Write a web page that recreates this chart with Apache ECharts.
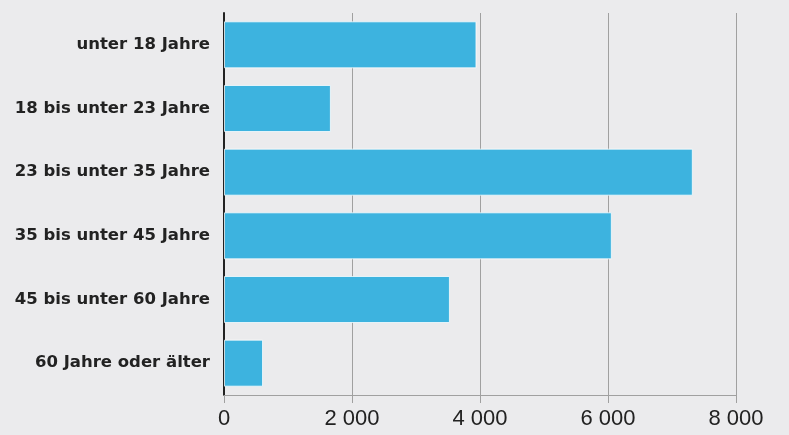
<!DOCTYPE html>
<html>
<head>
<meta charset="utf-8">
<script src="https://cdn.jsdelivr.net/npm/echarts@6/dist/echarts.min.js"></script>
<style>
  html, body { margin: 0; padding: 0; background: #ebebed; }
  #chart { width: 789px; height: 435px; }
</style>
</head>
<body>
<div id="chart"></div>
<script>
// Altersgruppen (von oben nach unten)
const categories = [
  "unter 18 Jahre",
  "18 bis unter 23 Jahre",
  "23 bis unter 35 Jahre",
  "35 bis unter 45 Jahre",
  "45 bis unter 60 Jahre",
  "60 Jahre oder älter"
];
const values = [3945, 1670, 7325, 6060, 3530, 610];
const xTicks = [0, 2000, 4000, 6000, 8000];

const fmt = v => String(v).replace(/\B(?=(\d{3})+(?!\d))/g, " ");

const chart = echarts.init(document.getElementById("chart"));
chart.setOption({
  backgroundColor: "#ebebed",
  animation: false,
  grid: { left: 224, right: 53, top: 13, bottom: 40, containLabel: false },
  xAxis: {
    type: "value",
    min: xTicks[0],
    max: xTicks[xTicks.length - 1],
    interval: 2000,
    axisLine: { show: true, lineStyle: { color: "#a0a0a0", width: 1 } },
    axisTick: { show: true, length: 8, lineStyle: { color: "#a0a0a0" } },
    splitLine: { show: true, lineStyle: { color: "#a0a0a0", width: 1 } },
    axisLabel: {
      color: "#222",
      fontSize: 22,
      fontFamily: "'Liberation Sans', Arial, sans-serif",
      margin: 13,
      formatter: fmt
    }
  },
  yAxis: {
    type: "category",
    inverse: true,
    data: categories,
    axisLine: { show: true, lineStyle: { color: "#222", width: 2 } },
    axisTick: { show: false },
    axisLabel: {
      color: "#222",
      fontSize: 16.5,
      fontWeight: "bold",
      fontFamily: "'DejaVu Sans', sans-serif",
      margin: 14
    }
  },
  series: [{
    type: "bar",
    data: values,
    barWidth: 47,
    itemStyle: {
      color: "#3db3df",
      borderColor: "rgba(255,255,255,0.75)",
      borderWidth: 1
    }
  }]
});
</script>
</body>
</html>
